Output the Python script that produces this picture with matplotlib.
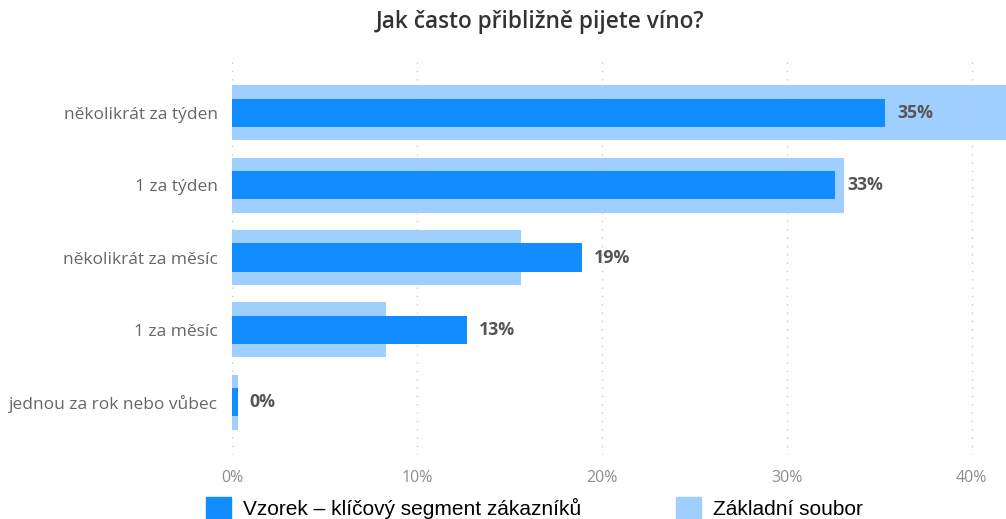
import numpy as np
import matplotlib.pyplot as plt
from matplotlib.patches import Patch
from matplotlib.ticker import FuncFormatter

kategorie = ['několikrát za týden', '1 za týden', 'několikrát za měsíc',
             '1 za měsíc', 'jednou za rok nebo vůbec']
vzorek = [35.3, 32.6, 18.9, 12.7, 0.3]       # klíčový segment
zakladni = [43.0, 33.1, 15.6, 8.3, 0.3]      # základní soubor
osa_x = [0, 10, 20, 30, 40]

tmava = '#118DFF'
svetla = '#9FCFFF'

plt.rcParams['font.family'] = ['Open Sans', 'DejaVu Sans']

fig = plt.figure(figsize=(10.06, 5.19), dpi=100)
ax = fig.add_axes([232 / 1006, 1 - 455 / 519, 1 - 232 / 1006, 400 / 519])

y = np.arange(len(kategorie))
ax.barh(y, zakladni, height=0.76, color=svetla, zorder=1)
ax.barh(y, vzorek, height=0.39, color=tmava, zorder=3)

for yi, v in zip(y, vzorek):
    ax.text(v + 0.65, yi, '{:.0f}%'.format(v), va='center', ha='left',
            fontsize=12.8, fontweight='bold', color='#555555', zorder=4)

ax.set_xlim(0, 41.85)
ax.set_ylim(len(kategorie) - 1 + 0.73, -0.8)
ax.set_xticks(osa_x)
ax.xaxis.set_major_formatter(FuncFormatter(lambda v, p: '{:.0f}%'.format(v)))
ax.set_yticks(y)
ax.set_yticklabels(kategorie)
ax.tick_params(axis='y', length=0, pad=10, labelsize=12.5, labelcolor='#666666')
ax.tick_params(axis='x', length=0, pad=11, labelsize=11.5, labelcolor='#8c8c8c')
ax.grid(axis='x', linestyle=(0, (1, 5)), color='#cccccc', linewidth=1, zorder=2)
ax.set_axisbelow(False)
for s in ax.spines.values():
    s.set_visible(False)

fig.text(540 / 1006, 1 - 22 / 519, 'Jak často přibližně pijete víno?',
         ha='center', va='center', fontsize=16.3, fontweight='semibold',
         color='#333333')

handles = [Patch(color=tmava, label='Vzorek – klíčový segment zákazníků'),
           Patch(color=svetla, label='Základní soubor')]
fig.legend(handles=handles, loc='lower left', bbox_to_anchor=(206 / 1006, 0),
           ncol=2, frameon=False, borderpad=0, borderaxespad=0,
           handlelength=1.2, handleheight=1.25, handletextpad=0.58,
           columnspacing=4.55,
           prop={'family': 'Liberation Sans', 'size': 15})

fig.savefig('out.png', dpi=100)
